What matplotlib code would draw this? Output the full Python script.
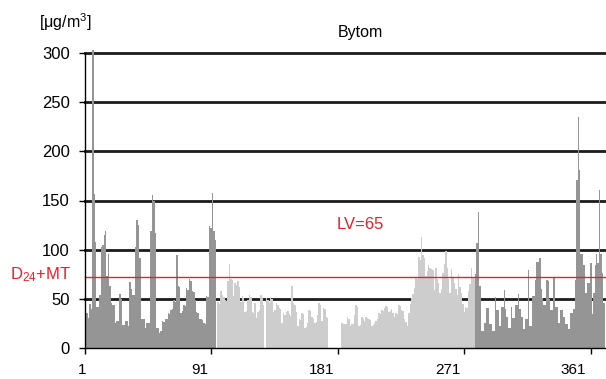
import numpy as np
import matplotlib
matplotlib.use('Agg')
import matplotlib.pyplot as plt
from matplotlib.transforms import blended_transform_factory

plt.rcParams['font.family'] = ['Liberation Sans', 'DejaVu Sans']
plt.rcParams['mathtext.default'] = 'regular'

nan = np.nan

# daily PM10 in Bytom, days 1-92 (heating season)
pm10_jan_mar = [34, 36, 31, 45, 40, 303, 157, 108, 42, 42,
                54, 103, 105, 115, 119, 73, 96, 63, 46, 44,
                44, 25, 27, 27, 55, 50, 23, 23, 27, 27,
                22, 67, 60, 54, 54, 103, 130, 125, 92, 29,
                29, 29, 20, 25, 25, 25, 119, 156, 150, 117,
                20, 20, 15, 17, 27, 26, 29, 30, 36, 35,
                39, 40, 49, 47, 95, 63, 62, 36, 38, 44,
                43, 61, 59, 70, 68, 58, 57, 49, 37, 36,
                29, 30, 28, 25, 24, 53, 52, 124, 122, 158,
                119, 110]

# days 93-274 (summer), nan = no measurement
pm10_summer = ([nan]
               + [47, 45, 58, 54, 52, 49, 48, 68, 85, 70,
                  69, 53, 66, 64, 68, 62, 47, 53, 51, 37,
                  38, 49, 54, 52, 37, 36, 46, 31, 37, 39,
                  54, 52, 44]
               + [nan]
               + [51, 49, 46, 52, 50, 37, 39, 46, 44, 41,
                  40, 25, 36, 34, 37, 38, 35, 33, 63, 46,
                  44, 37, 22, 29, 28, 36, 35, 20, 21, 25,
                  39, 38, 32, 30, 25, 26, 34, 46, 44, 27,
                  41, 40, 32, 31]
               + [nan] * 9
               + [25, 24, 24, 24, 32, 30, 22, 24, 24, 34,
                  44, 42, 22, 23, 32, 30, 27, 32, 31, 29,
                  28, 22, 23, 25, 27, 29, 36, 35, 39, 38,
                  41, 43, 42, 37, 38, 40, 36, 32, 36, 35,
                  44, 43, 39, 38, 29, 26, 22, 36, 45, 51,
                  55, 61, 71, 70, 93, 90, 113, 95, 92, 73,
                  78, 84, 81, 80, 79, 59, 81, 70, 66, 56,
                  60, 76, 85, 99, 81, 70, 56, 80, 72, 66,
                  60, 54, 75, 62, 56, 45, 37, 42, 41, 58,
                  65, 81, 71, 70])

# days 275-365 (heating season)
pm10_oct_dec = [75, 107, 138, 63, 17, 17, 25, 25, 41, 41,
                24, 24, 17, 17, 52, 39, 39, 22, 42, 42,
                59, 40, 32, 20, 20, 42,
                31, 31, 44, 44, 55, 40, 32, 32, 19, 29,
                29, 79, 22, 22, 53, 53, 69, 87, 87, 92,
                60, 51, 44, 44, 69, 68, 50, 39, 39, 71,
                42, 42, 25, 25, 39, 39, 32, 24, 24, 19,
                19, 36, 36, 40, 69, 171, 235, 181, 96, 96,
                84, 56, 56, 66, 66, 86, 35, 56, 84, 96,
                86, 161, 96, 76, 46]

limit_label = 'LV=65'
d24_mt = 72
tick_labels = ['1', '91', '181', '271', '361']

pm10 = np.array(pm10_jan_mar + pm10_summer + pm10_oct_dec, dtype=float)
days = np.arange(1, len(pm10) + 1)
heating = (days <= len(pm10_jan_mar)) | (days > len(pm10_jan_mar) + len(pm10_summer))
ok = ~np.isnan(pm10)

fig = plt.figure(figsize=(6.06, 3.79), dpi=100)
ax = fig.add_axes([85 / 606, 31 / 379, 521 / 606, 295 / 379])
ax.set_xlim(0.5, 366.5)
ax.set_ylim(0, 300)

for y in range(50, 301, 50):
    ax.axhline(y, color='#1c1c1c', lw=2.0, zorder=1, clip_on=False)

ax.bar(days[ok & heating], pm10[ok & heating], width=1.0, color='#959595',
       linewidth=0, zorder=2, clip_on=False)
ax.bar(days[ok & ~heating], pm10[ok & ~heating], width=1.0, color='#cdcdcd',
       linewidth=0, zorder=2, clip_on=False)

ax.axhline(d24_mt, color='#e8202a', lw=1.0, zorder=3, clip_on=False)

for s in ['top', 'right']:
    ax.spines[s].set_visible(False)
for s in ['left', 'bottom']:
    ax.spines[s].set_color('black')
    ax.spines[s].set_linewidth(1.0)
    ax.spines[s].set_zorder(4)

ax.set_yticks(range(0, 301, 50))
ax.tick_params(axis='y', direction='out', length=4, width=1, labelsize=12, pad=7)

tick_pos = [0.5, 89.0, 178.2, 266.7, 355.9]
ax.set_xticks(tick_pos)
ax.set_xticklabels([])
ax.tick_params(axis='x', direction='out', length=4, width=1)

# category labels sit a bit left of their tick marks
label_pos = [-1.6, 81.3, 167.0, 255.5, 343.3]
trans = blended_transform_factory(ax.transData, fig.transFigure)
for x, t in zip(label_pos, tick_labels):
    ax.text(x, 1 - 370 / 379, t, transform=trans, ha='center', va='center',
            fontsize=11, clip_on=False)

ax.text(193.7, 126, limit_label, color='#e8202a', fontsize=12,
        ha='center', va='center')
fig.text(71 / 606, 1 - 275 / 379, 'D$_{24}$+MT', color='#e8202a', fontsize=12,
         ha='right', va='center')

fig.text(360 / 606, 1 - 32 / 379, 'Bytom', fontsize=11.5, ha='center', va='center')
fig.text(65 / 606, 1 - 22 / 379, '[\u03bcg/m$^{3}$]', fontsize=11.5,
         ha='center', va='center')

fig.savefig('out.png', dpi=100)
